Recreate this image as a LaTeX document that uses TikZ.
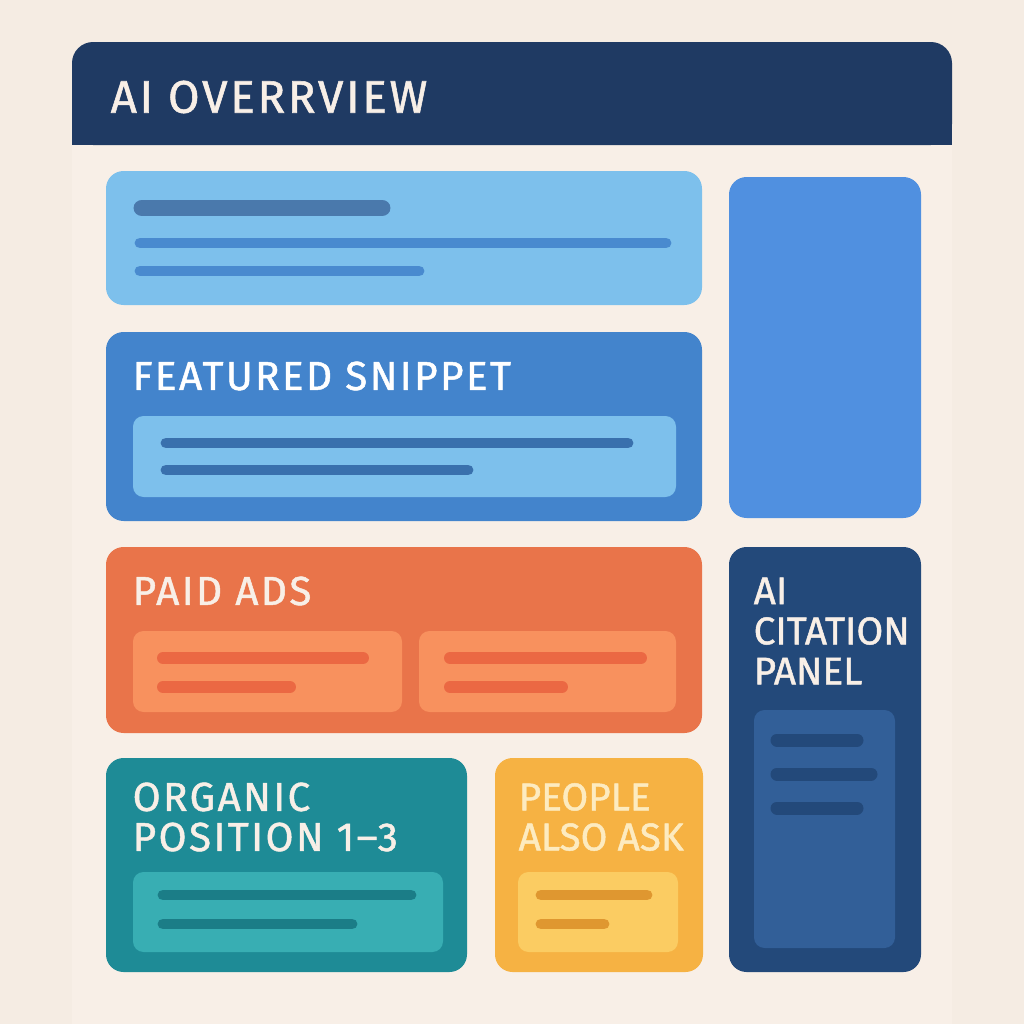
\documentclass[tikz,border=0pt]{standalone}
\usepackage{fontspec}
\setmainfont{Fira Sans}
\definecolor{bgcol}{HTML}{F5ECE3}
\definecolor{pagecol}{HTML}{F8EFE7}
\definecolor{navy}{HTML}{1F3A63}
\definecolor{skyb}{HTML}{7DC0EC}
\definecolor{midb}{HTML}{4384CC}
\definecolor{brightb}{HTML}{5090E0}
\definecolor{orng}{HTML}{E9744A}
\definecolor{orngl}{HTML}{F8915E}
\definecolor{teal}{HTML}{1E8B96}
\definecolor{teall}{HTML}{38AEB3}
\definecolor{gold}{HTML}{F6B243}
\definecolor{goldl}{HTML}{FBCC62}
\definecolor{citeb}{HTML}{23497A}
\definecolor{citel}{HTML}{325F98}
\tikzset{
  card/.style={rounded corners=5pt},
  bar/.style={line width=#1, line cap=round},
  title/.style={anchor=west, align=left, inner sep=0pt, font=\fontsize{11.5}{11.4}\selectfont\addfontfeature{FakeBold=1.2,LetterSpace=6}},
  tighttitle/.style={title, font=\fontsize{11}{11.4}\selectfont\addfontfeature{FakeBold=1.2}}
}
\begin{document}
\begin{tikzpicture}[x=0.01cm,y=-0.01cm]
% page
  \fill[bgcol] (0,0) rectangle (1024,1024);
  \useasboundingbox (0,0) rectangle (1024,1024);
  \fill[pagecol] (72,140) rectangle (952,1024);
  \fill[navy, rounded corners=6pt] (72,145) |- (952,42) |- cycle;
  \fill[navy] (72,110) rectangle (952,145);
  \node[title, text=pagecol, font=\fontsize{13}{14}\selectfont\addfontfeature{FakeBold=1.2,LetterSpace=6}] (hdr) at (110,97) {AI OVERRVIEW};

% top card
  \fill[skyb, card] (106,171) rectangle (702,305);
  \draw[bar=4.8pt, draw=midb!80!black!90] (142,208) -- (382,208);
  \draw[bar=3.1pt, draw=midb!90!skyb] (140,243) -- (666,243);
  \draw[bar=3.1pt, draw=midb!90!skyb] (140,271) -- (419,271);

% right block
  \fill[brightb, card] (729,177) rectangle (921,518);

% featured snippet
  \fill[midb, card] (106,332) rectangle (702,521);
  \node[title, text=white] (snip) at (132,376) {FEATURED SNIPPET};
  \fill[skyb, rounded corners=3pt] (133,416) rectangle (676,497);
  \draw[bar=3.1pt, draw=midb!85!black] (166,443) -- (628,443);
  \draw[bar=3.1pt, draw=midb!85!black] (166,470) -- (468,470);

% paid ads
  \fill[orng, card] (106,547) rectangle (702,733);
  \node[title, text=pagecol] (ads) at (132,591) {PAID ADS};
  \fill[orngl, rounded corners=3pt] (133,631) rectangle (402,712);
  \fill[orngl, rounded corners=3pt] (419,631) rectangle (676,712);
  \foreach \xa/\xb/\y in {163/363/658, 163/290/687, 450/641/658, 450/562/687}
    \draw[bar=3.4pt, draw=orng!90!red] (\xa,\y) -- (\xb,\y);

% organic
  \fill[teal, card] (106,758) rectangle (467,972);
  \node[title, text=pagecol] (org) at (132,817) {ORGANIC\\POSITION 1--3};
  \fill[teall, rounded corners=3pt] (133,872) rectangle (443,952);
  \draw[bar=3.1pt, draw=teal!90!black] (163,895) -- (411,895);
  \draw[bar=3.1pt, draw=teal!90!black] (163,924) -- (352,924);

% people also ask
  \fill[gold, card] (495,758) rectangle (703,972);
  \node[tighttitle, text=goldl!40!white] (paa) at (518,817) {PEOPLE\\ALSO ASK};
  \fill[goldl, rounded corners=3pt] (518,872) rectangle (678,952);
  \draw[bar=3.1pt, draw=gold!80!orange!90!black] (541,895) -- (647,895);
  \draw[bar=3.1pt, draw=gold!80!orange!90!black] (541,924) -- (604,924);

% citation panel
  \fill[citeb, card] (729,547) rectangle (921,972);
  \node[tighttitle, text=pagecol] (cite) at (753,631) {AI\\CITATION\\PANEL};
  \fill[citel, rounded corners=3pt] (754,710) rectangle (895,948);
  \foreach \xb/\y in {857/740, 871/774, 857/808}
    \draw[bar=3.7pt, draw=citeb] (777,\y) -- (\xb,\y);
\end{tikzpicture}
\end{document}
